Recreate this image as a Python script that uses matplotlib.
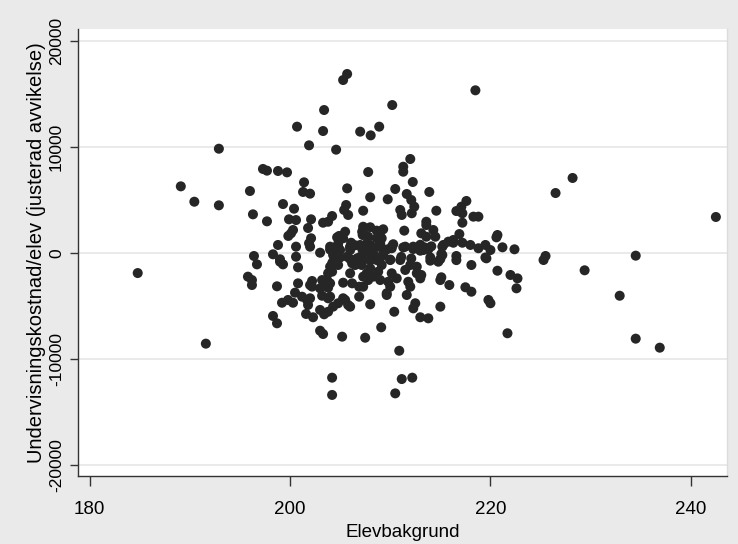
import matplotlib
matplotlib.use("Agg")
import matplotlib.pyplot as plt
import numpy as np

# Elevbakgrund (x) and adjusted cost per pupil deviation (y)
x_outer = [184.8, 189.1, 190.45, 191.6, 192.9, 192.9, 196.0, 196.3, 197.3, 197.7,
           198.8, 199.7, 197.7, 199.3, 200.4, 199.9, 200.6, 200.3, 199.83, 200.1,
           198.8, 200.6, 196.4, 198.3, 199.0, 196.7, 199.0, 199.3, 200.6, 200.8,
           195.8, 196.2, 196.2, 198.7, 200.8, 200.5, 199.8, 199.2, 200.3, 198.3,
           198.7]
y_outer = [-1920, 6260, 4810, -8580, 9810, 4470, 5820, 3620, 7900, 7740,
           7710, 7580, 2960, 4590, 4150, 3150, 3080, 2140, 1580, 1830,
           730, 570, -310, -150, -620, -1100, -850, -1100, -380, -1380,
           -2260, -2580, -3050, -3170, -2890, -3770, -4460, -4720, -4720, -5970,
           -6660]

x_left = [200.7, 201.4, 201.3, 202.0, 202.1, 203.3, 203.8, 204.2, 201.8, 202.1,
          201.9, 202.0, 204.0, 203.0, 204.2, 202.2, 202.2, 203.2, 203.8, 203.8,
          201.2, 202.0, 201.8, 203.2, 203.8, 203.0, 203.4, 203.8, 204.3, 201.6,
          202.3, 203.0, 203.3, 204.8, 204.3, 204.0, 204.2, 203.8, 203.7, 204.0,
          203.0, 202.0, 201.7, 204.8, 205.3, 204.0]
y_left = [11890, 6640, 5730, 5570, 3150, 2830, 2920, 3460, 2330, 1360,
          890, 570, 570, 0, -1000, -2670, -3200, -2580, -2890, -3300,
          -4150, -4300, -4930, -4060, -4300, -5400, -5810, -5570, -5090, -5780,
          -6090, -7360, -7670, -1160, -850, -1320, -1790, -1940, -2580, -2890,
          -3360, -3050, -4460, -4770, -4300, -4150]

x_upper = [205.7, 205.3, 218.5, 203.4, 210.2, 203.3, 207.0, 208.05, 208.9, 201.9,
           204.6, 212.0, 211.3, 211.3, 207.8, 205.7, 212.25, 210.5, 208.0, 213.9,
           209.75, 211.65, 212.1, 212.4, 212.15, 214.6, 217.6, 217.1, 216.6, 217.2,
           217.2, 218.3, 218.8, 220.7, 220.6, 222.4, 221.2]
y_upper = [16860, 16290, 15320, 13460, 13930, 11480, 11420, 11070, 11890, 10130,
           9720, 8840, 8110, 7640, 7610, 6070, 6670, 6010, 5230, 5730,
           5040, 5540, 4970, 4340, 3720, 3960, 4880, 4340, 3930, 3720,
           2830, 3400, 3400, 1670, 1450, 320, 510]

x_mid = [205.4, 205.6, 205.8, 207.3, 205.5, 204.9, 204.8, 206.1, 206.0, 207.3,
         208.0, 207.25, 207.8, 208.65, 209.3, 209.15, 208.8, 208.3, 209.3, 210.15,
         211.0, 211.15, 211.4, 211.5, 212.3, 213.6, 213.6, 213.1, 213.6, 214.3,
         214.5, 213.4, 213.8, 213.0, 215.2, 216.3, 216.9, 217.2, 218.0, 218.8,
         219.5, 220.0, 216.6, 215.2, 219.6, 207.3, 207.2, 209.0, 208.65, 205.3,
         204.7, 216.3, 215.8, 215.3,
         204.0, 204.8, 206.0, 206.5, 207.2, 207.7, 208.3, 209.0, 209.65, 210.3,
         211.3, 212.3, 213.0, 213.8, 214.1,
         205.0, 206.0, 207.0, 208.0, 209.0, 210.0, 211.1, 212.1, 214.0, 215.0,
         216.6, 219.5,
         206.0, 207.0, 208.0, 209.0, 210.15, 213.3, 204.3, 205.0, 205.7, 207.65,
         208.3, 209.3, 210.0]
y_mid = [4030, 4500, 3560, 3960, 1980, 1580, 570, 940, 250, 2140,
         2400, 1670, 1510, 2080, 2210, 1360, 570, -60, -60, 420,
         4030, 3560, 2080, 570, 570, 2920, 2610, 1830, 1510, 2140,
         1510, 510, 320, 190, 570, 940, 1760, 940, 730, 420,
         730, 250, -310, -220, -530, 2450, 1980, 1980, 1360, 1360,
         1450, 1200, 1040, 730,
         300, 850, 500, 700, 350, 900, 450, 650, 300, 800,
         500, 350, 750, 400, 600,
         -450, -600, -400, -700, -500, -650, -400, -550, -450, -600,
         -700, -450,
         570, 730, 730, 890, 570, 250, -220, 250, -380, 90,
         -220, -220, -690]

x_lower = [204.2, 204.2, 211.15, 212.2, 210.5, 210.9, 209.1, 207.5, 205.2, 221.7,
           210.4, 208.0, 206.9, 209.65, 211.65, 212.5, 212.3, 213.0, 213.8, 215.0,
           219.8, 220.0, 217.5, 218.1, 215.9, 215.0, 215.1, 218.1, 220.7, 222.0,
           222.7, 222.6, 214.0, 214.8, 215.1, 213.0, 213.1, 212.65, 212.0, 212.65,
           211.5, 211.8, 212.0, 211.0, 210.15, 210.65, 209.8, 210.0, 209.65, 209.0,
           208.8, 209.15, 208.65, 208.0, 207.65, 207.3, 207.8, 208.3, 207.15, 206.5,
           206.2, 206.7, 207.15, 207.3, 206.0, 206.2, 205.3, 205.8, 205.5, 206.0,
           206.9, 207.3]
y_lower = [-11790, -13420, -11920, -11790, -13270, -9250, -7040, -8020, -7920, -7600,
           -5570, -4870, -4150, -3990, -3990, -4770, -5250, -6090, -6190, -5090,
           -4460, -4770, -3260, -3680, -3050, -2580, -2320, -1160, -1700, -2100,
           -2420, -3360, -750, -850, -120, -2420, -2100, -1940, -1160, -1320,
           -1630, -2740, -3210, -690, -1940, -2420, -2740, -3210, -3830, -2580,
           -1790, -1160, -690, -1470, -1940, -2260, -2580, -2260, -1160, -1160,
           -1000, -530, -380, -690, -1940, -2890, -2830, -4930, -4460, -5090,
           -3210, -3210]

x_right = [225.3, 225.5, 234.5, 229.4, 232.9, 234.5, 236.9, 228.2, 226.5, 242.5]
y_right = [-690, -310, -280, -1660, -4060, -8110, -8960, 7050, 5630, 3370]

x_ticks = [180, 200, 220, 240]
y_ticks = [-20000, -10000, 0, 10000, 20000]
x_label = "Elevbakgrund"
y_label = "Undervisningskostnad/elev (justerad avvikelse)"

xs = np.array(x_outer + x_left + x_upper + x_mid + x_lower + x_right)
ys = np.array(y_outer + y_left + y_upper + y_mid + y_lower + y_right)

plt.rcParams['font.family'] = ['Liberation Sans', 'DejaVu Sans']

fig = plt.figure(figsize=(7.38, 5.44), dpi=100)
fig.patch.set_facecolor('#EAEAEA')
ax = fig.add_axes([78/738, (544-476)/544, (727-78)/738, (476-29)/544])
ax.set_facecolor('white')

ax.scatter(xs, ys, s=52, color='#262626', edgecolors='none', zorder=3)

ax.set_xlim(178.84, 243.61)
ax.set_ylim(-21066, 21104)
ax.set_xticks(x_ticks)
ax.set_yticks(y_ticks)
ax.set_xticklabels([str(t) for t in x_ticks], fontsize=13.5)
ax.set_yticklabels([str(t) for t in y_ticks], fontsize=12.5, rotation=90, va='center')
ax.yaxis.grid(True, color='#E8E8E8', linewidth=1.3, zorder=0)
ax.set_axisbelow(True)
ax.tick_params(axis='x', length=7, width=1, color='#333333', pad=11)
ax.tick_params(axis='y', length=6, width=1, color='#333333', pad=4)
ax.spines['top'].set_visible(False)
ax.spines['right'].set_color('#DCDCDC')
ax.spines['right'].set_linewidth(1)
for side in ['left', 'bottom']:
    ax.spines[side].set_color('#333333')
    ax.spines[side].set_linewidth(1)

ax.set_xlabel(x_label, fontsize=13.5, labelpad=4)
ax.set_ylabel(y_label, fontsize=14.5, labelpad=2)

fig.savefig("out.png", dpi=100, facecolor=fig.get_facecolor())
